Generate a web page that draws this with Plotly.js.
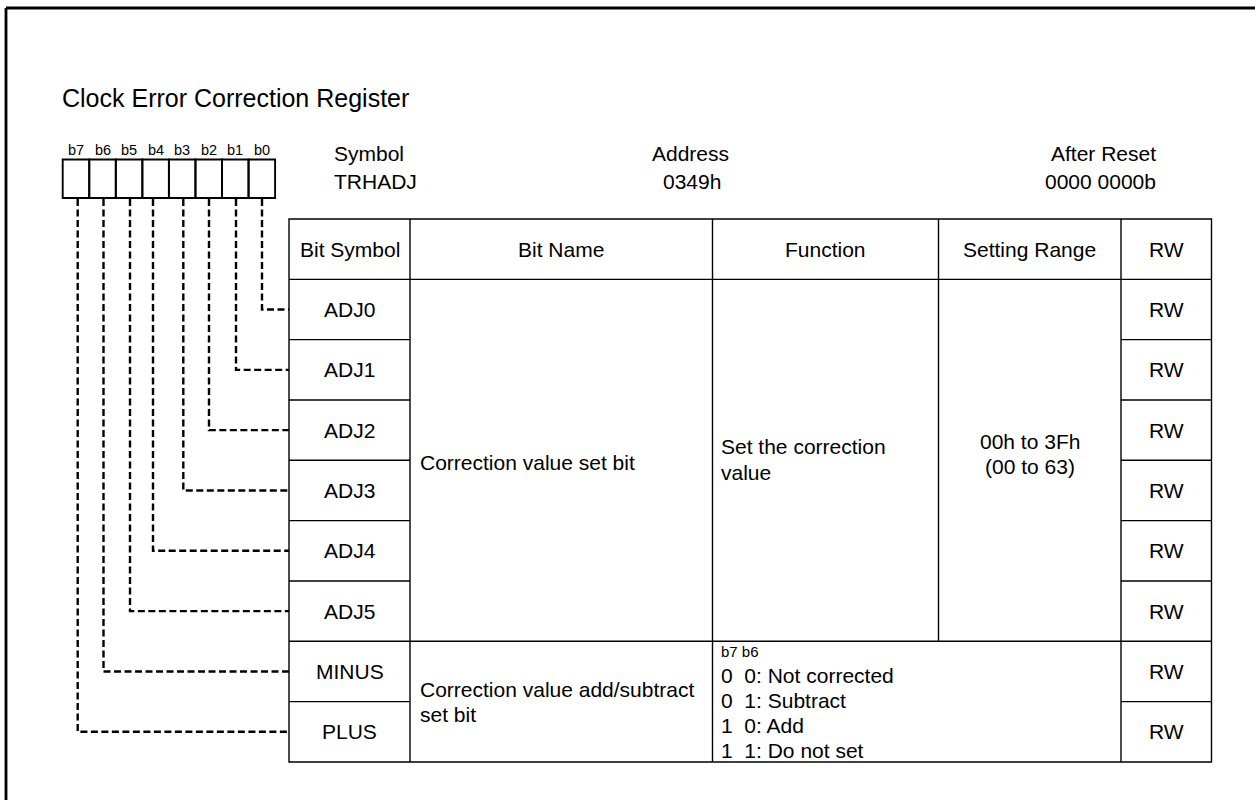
<!DOCTYPE html>
<html>
<head>
<meta charset="utf-8">
<script src="https://cdn.plot.ly/plotly-3.0.1.min.js"></script>
<style>html,body{margin:0;padding:0;background:#fff;}#chart{width:1255px;height:800px;}</style>
</head>
<body>
<div id="chart"></div>
<script>
// ---------- data ----------
const titleText = 'Clock Error Correction Register';
const bitLabels = ['b7', 'b6', 'b5', 'b4', 'b3', 'b2', 'b1', 'b0'];
const infoLabels = ['Symbol', 'Address', 'After Reset'];
const infoValues = ['TRHADJ', '0349h', '0000 0000b'];
const headers = ['Bit Symbol', 'Bit Name', 'Function', 'Setting Range', 'RW'];
const bitSymbols = ['ADJ0', 'ADJ1', 'ADJ2', 'ADJ3', 'ADJ4', 'ADJ5', 'MINUS', 'PLUS'];
const bitNumbers = [0, 1, 2, 3, 4, 5, 6, 7];
const rwValues = ['RW', 'RW', 'RW', 'RW', 'RW', 'RW', 'RW', 'RW'];
const adjName = ['Correction value set bit'];
const adjFunction = ['Set the correction', 'value'];
const adjRange = ['00h to 3Fh', '(00 to 63)'];
const signName = ['Correction value add/subtract', 'set bit'];
const signHead = 'b7 b6';
const signFunction = ['0\u00a0\u00a00: Not corrected', '0\u00a0\u00a01: Subtract', '1\u00a0\u00a00: Add', '1\u00a0\u00a01: Do not set'];

// ---------- geometry (pixels) ----------
const W = 1255, H = 800;
const FONT = 'Liberation Sans, Arial, Helvetica, sans-serif';
const colX = [289, 410, 712.5, 938.5, 1121, 1211.5];
const tableTop = 219, rowH = 60.33, nRows = 9;
const tableBottom = tableTop + rowH * nRows;
const rowTop = i => tableTop + rowH * (i + 1);           // top of data row i
const rowMid = i => rowTop(i) + rowH / 2;
const boxLeft = 62.7, boxW = 26.55, boxTop = 159.5, boxBottom = 198;
const dashX = [262, 236, 209, 183.3, 153, 130, 103.5, 77.7]; // for b0..b7
const lineW = 1.4, boxLineW = 1.9;

const shapes = [];
const ann = [];
function line(x0, y0, x1, y1, w) {
  shapes.push({type: 'line', xref: 'x', yref: 'y', x0, y0, x1, y1, line: {color: '#000', width: w || lineW}});
}
function text(t, x, y, size, xa, opts) {
  ann.push(Object.assign({text: t, x, y, xref: 'x', yref: 'y', showarrow: false,
    xanchor: xa || 'center', yanchor: 'middle', font: {family: FONT, size, color: '#000'}}, opts || {}));
}

// outer frame (left and top edges)
line(6, 8, 6, H + 5, 2.8);
line(6, 8, W + 5, 8, 2.8);

// title
text(titleText, 60, 98, 25, 'left');

// bit boxes and labels
bitLabels.forEach((b, i) => {
  const x0 = boxLeft + i * boxW;
  shapes.push({type: 'rect', xref: 'x', yref: 'y', x0, x1: x0 + boxW, y0: boxTop, y1: boxBottom,
    line: {color: '#000', width: boxLineW}});
  text(b, x0 + boxW / 2, 150, 14.5, 'center');
});

// register info
text(infoLabels[0], 332, 153, 21, 'left');
text(infoValues[0], 332, 181, 21, 'left');
text(infoLabels[1], 690, 153, 21, 'center');
text(infoValues[1], 692, 181, 21, 'center');
text(infoLabels[2], 1158, 153, 21, 'right');
text(infoValues[2], 1158, 181, 21, 'right');

// table outline and grid
shapes.push({type: 'rect', xref: 'x', yref: 'y', x0: colX[0], x1: colX[5], y0: tableTop, y1: tableBottom,
  line: {color: '#000', width: lineW}});
line(colX[1], tableTop, colX[1], tableBottom);
line(colX[2], tableTop, colX[2], tableBottom);
line(colX[3], tableTop, colX[3], rowTop(6));
line(colX[4], tableTop, colX[4], tableBottom);
line(colX[0], rowTop(0), colX[5], rowTop(0));
line(colX[0], rowTop(6), colX[5], rowTop(6));
for (let i = 1; i < bitSymbols.length; i++) {
  if (i === 6) continue;
  line(colX[0], rowTop(i), colX[1], rowTop(i));
  line(colX[4], rowTop(i), colX[5], rowTop(i));
}

// headers
headers.forEach((h, i) => text(h, (colX[i] + colX[i + 1]) / 2, tableTop + rowH / 2, 21, 'center'));

// symbol and RW columns
bitSymbols.forEach((s, i) => {
  text(s, (colX[0] + colX[1]) / 2, rowMid(i), 21, 'center');
  text(rwValues[i], (colX[4] + colX[5]) / 2, rowMid(i), 21, 'center');
  // dashed connector from the bit box
  const x = dashX[bitNumbers[i]];
  shapes.push({type: 'path', xref: 'x', yref: 'y',
    path: `M ${x},${boxBottom + 1} L ${x},${rowMid(i)} L ${colX[0]},${rowMid(i)}`,
    line: {color: '#000', width: 2.4, dash: '7px,3.5px'}});
});

// ADJ group
const adjMid = (rowTop(0) + rowTop(6)) / 2;
text(adjName[0], colX[1] + 8, adjMid + 2, 21, 'left');
text(adjFunction[0], colX[2] + 6, 446.5, 21, 'left');
text(adjFunction[1], colX[2] + 6, 472.5, 21, 'left');
text(adjRange[0], (colX[3] + colX[4]) / 2, 441.5, 21, 'center');
text(adjRange[1], (colX[3] + colX[4]) / 2, 466, 21, 'center');

// MINUS/PLUS group
text(signName[0], colX[1] + 8, 689, 21, 'left');
text(signName[1], colX[1] + 8, 714.5, 21, 'left');
text(signHead, colX[2] + 6, 651.5, 15, 'left');
signFunction.forEach((t, k) => text(t, colX[2] + 6, 675 + k * 25.2, 21, 'left'));

const layout = {
  width: W, height: H, autosize: false,
  margin: {l: 0, r: 0, t: 0, b: 0, pad: 0},
  paper_bgcolor: '#fff', plot_bgcolor: '#fff',
  xaxis: {range: [0, W], visible: false, fixedrange: true},
  yaxis: {range: [H, 0], visible: false, fixedrange: true},
  showlegend: false,
  shapes, annotations: ann,
  font: {family: FONT, color: '#000'}
};
Plotly.newPlot('chart', [{x: [], y: [], type: 'scatter', mode: 'markers', hoverinfo: 'skip'}], layout,
  {displayModeBar: false, staticPlot: true});
</script>
</body>
</html>
